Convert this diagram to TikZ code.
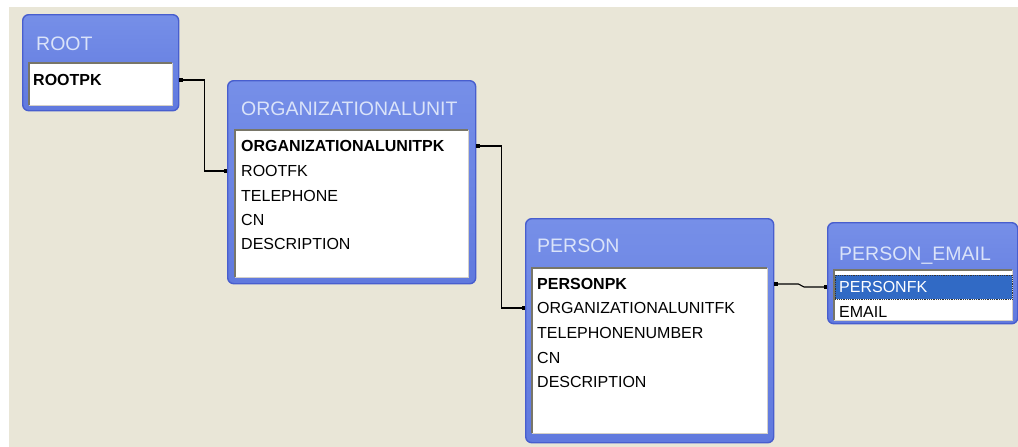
\documentclass[tikz,border=0pt]{standalone}
\usepackage{fontspec}
\setmainfont{Liberation Sans}
\usetikzlibrary{arrows.meta}
\definecolor{bgbeige}{RGB}{233,230,215}
\definecolor{tbltop}{RGB}{118,143,232}
\definecolor{tblbot}{RGB}{96,121,222}
\definecolor{tblborder}{RGB}{72,94,206}
\definecolor{ttlcol}{RGB}{218,227,249}
\definecolor{hlblue}{RGB}{49,106,197}
\definecolor{sunken}{RGB}{120,118,104}
\definecolor{sunkenlight}{RGB}{212,208,200}
\begin{document}
\begin{tikzpicture}[x=1pt,y=-1pt,
  tbl/.style={draw=tblborder, line width=1.4pt, top color=tbltop, bottom color=tblbot,
    rounded corners=6pt, inner sep=0pt, anchor=north west},
  fieldbox/.style={fill=white, draw=none, inner sep=0pt, anchor=north west},
  ttl/.style={text=ttlcol, font=\fontsize{19.5}{22}\selectfont, inner sep=0pt,
    anchor=west, text height=14pt, text depth=0pt},
  rowtxt/.style={text=black, font=\fontsize{16}{18}\selectfont, inner sep=0pt,
    anchor=west, text height=11.5pt, text depth=0pt},
  pk/.style={rowtxt, font=\fontsize{16}{18}\selectfont\bfseries},
  conn/.style={black, line width=1.1pt, {Square[length=3.5pt,width=3.5pt]}-{Square[length=3.5pt,width=3.5pt]}},
  hl/.style={fill=hlblue, draw=black!80, densely dotted, line width=0.8pt, inner sep=0pt, anchor=west}
]
\useasboundingbox (0,0) rectangle (1018,447);
\fill[white] (0,0) rectangle (1018,447);
\fill[bgbeige] (9,7) rectangle (1018,447);

% ROOT
\node[tbl, minimum width=156pt, minimum height=96pt] (root) at (22,14) {};
\node[fieldbox, minimum width=143pt, minimum height=42pt] (rootf) at (29,63) {};
\draw[sunken, line width=1.5pt] (rootf.south west) -- (rootf.north west) -- (rootf.north east);
\draw[sunkenlight, line width=1pt] (rootf.north east) -- (rootf.south east) -- (rootf.south west);
\node[ttl] (roott) at (36,43) {ROOT};
\node[pk] (rootpk) at (33,80) {ROOTPK};

% ORGANIZATIONALUNIT
\node[tbl, minimum width=248pt, minimum height=203pt] (org) at (227,80) {};
\node[fieldbox, minimum width=233pt, minimum height=147pt] (orgf) at (235,130) {};
\draw[sunken, line width=1.5pt] (orgf.south west) -- (orgf.north west) -- (orgf.north east);
\draw[sunkenlight, line width=1pt] (orgf.north east) -- (orgf.south east) -- (orgf.south west);
\node[ttl] (orgt) at (241,108) {ORGANIZATIONALUNIT};
\node[pk] (orgpk) at (241,146) {ORGANIZATIONALUNITPK};
\node[rowtxt] (rootfk) at (241,171) {ROOTFK};
\node[rowtxt] (orgtel) at (241,196) {TELEPHONE};
\node[rowtxt] (orgcn) at (241,220) {CN};
\node[rowtxt] (orgdesc) at (241,244) {DESCRIPTION};

% PERSON
\node[tbl, minimum width=248pt, minimum height=224pt] (person) at (525,218) {};
\node[fieldbox, minimum width=235pt, minimum height=165pt] (personf) at (532,268) {};
\draw[sunken, line width=1.5pt] (personf.south west) -- (personf.north west) -- (personf.north east);
\draw[sunkenlight, line width=1pt] (personf.north east) -- (personf.south east) -- (personf.south west);
\node[ttl] (persont) at (537,245) {PERSON};
\node[pk] (personpk) at (537,284) {PERSONPK};
\node[rowtxt] (orgfk) at (537,308) {ORGANIZATIONALUNITFK};
\node[rowtxt] (persontel) at (537,333) {TELEPHONENUMBER};
\node[rowtxt] (personcn) at (537,358) {CN};
\node[rowtxt] (persondesc) at (537,382) {DESCRIPTION};

% PERSON_EMAIL
\node[tbl, minimum width=190pt, minimum height=101pt] (email) at (827,222) {};
\node[fieldbox, minimum width=178pt, minimum height=50pt] (emailf) at (834,270) {};
\draw[sunken, line width=1.5pt] (emailf.south west) -- (emailf.north west) -- (emailf.north east);
\draw[sunkenlight, line width=1pt] (emailf.north east) -- (emailf.south east) -- (emailf.south west);
\node[ttl] (emailt) at (839,253) {PERSON\_EMAIL};
\node[hl, minimum width=177pt, minimum height=24pt] (hlbox) at (835,287) {};
\node[rowtxt, text=white] (personfk) at (839,287) {PERSONFK};
\node[rowtxt] (emailrow) at (839,312) {EMAIL};

% connectors
\draw[conn] (root.east |- rootpk) -- ++(25,0) |- (org.west |- rootfk);
\draw[conn] (org.east |- orgpk) -- ++(25,0) |- (person.west |- orgfk);
\draw[conn] (person.east |- personpk) -- ++(24,0) -- ([xshift=-23pt]email.west |- personfk) -- (email.west |- personfk);
\end{tikzpicture}
\end{document}
